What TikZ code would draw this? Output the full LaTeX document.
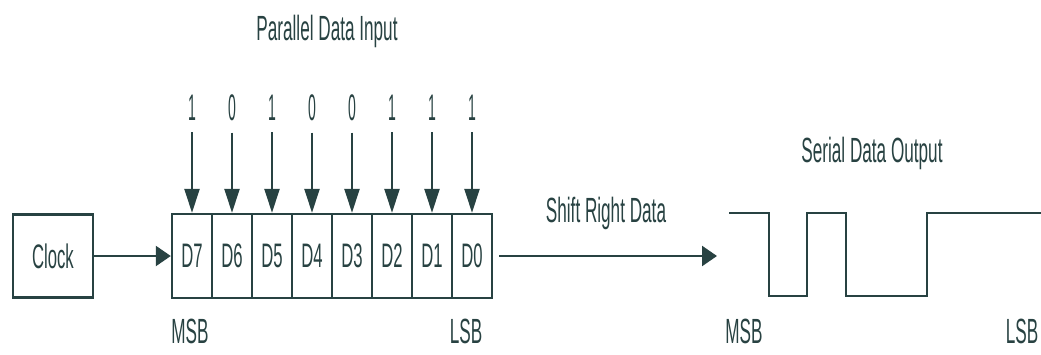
\documentclass[tikz,border=0pt]{standalone}
\usepackage{fontspec}
\newfontfamily\drawfont{Liberation Sans}[FakeStretch=0.49]
\newfontfamily\bitfont{Liberation Sans}[FakeStretch=0.38]
\usetikzlibrary{arrows.meta}
\definecolor{ink}{RGB}{40,66,66}
\tikzset{
  wire/.style={draw=ink, line width=2.4pt},
  regcell/.style={wire, minimum width=40pt, minimum height=84pt, inner sep=0pt, text=ink, font=\drawfont\fontsize{34}{34}\selectfont},
  clockbox/.style={regcell, minimum width=80pt, minimum height=83pt},
  caption/.style={text=ink, inner sep=0pt, anchor=base, font=\drawfont\fontsize{35}{35}\selectfont},
  bitlbl/.style={caption, font=\bitfont\fontsize{37}{37}\selectfont},
  harrow/.style={wire, -{Triangle[length=15pt,width=20pt]}},
  varrow/.style={wire, -{Triangle[length=24pt,width=15pt]}},
}

\begin{document}
\begin{tikzpicture}[x=1pt,y=-1pt]
\useasboundingbox (0,0) rectangle (1041,354);
\node[caption] (ptitle) at (327,40) {Parallel Data Input};
% register cells with parallel inputs
\foreach \d/\b [count=\k from 0] in {7/1,6/0,5/1,4/0,3/0,2/1,1/1,0/1} {
  \node[regcell] (c\d) at ({192+40*\k},256) {D\d};
  \node[bitlbl] (b\d) at ({192+40*\k},120) {\b};
  \draw[varrow, shorten <=12pt] (b\d.south) -- (c\d.north);
}
\node[clockbox] (clk) at (53,256) {Clock};
\draw[harrow] (clk.east) -- (c7.west);
\node[caption] (msbl) at (190,343) {MSB};
\node[caption] (lsbl) at (466,343) {LSB};
% serial output
\coordinate (wavein) at (717,256);
\draw[harrow, shorten <=6pt] (c0.east) -- (wavein);
\node[caption] (shlbl) at (606,222) {Shift Right Data};
\node[caption] (stitle) at (872,162) {Serial Data Output};
\draw[wire, line join=miter] (729,213) -| (769,296) -| (807,213) -| (846,296) -| (927,213) -- (1041,213);
\node[caption] (msbr) at (744,343) {MSB};
\node[caption] (lsbr) at (1022,343) {LSB};
\end{tikzpicture}
\end{document}
